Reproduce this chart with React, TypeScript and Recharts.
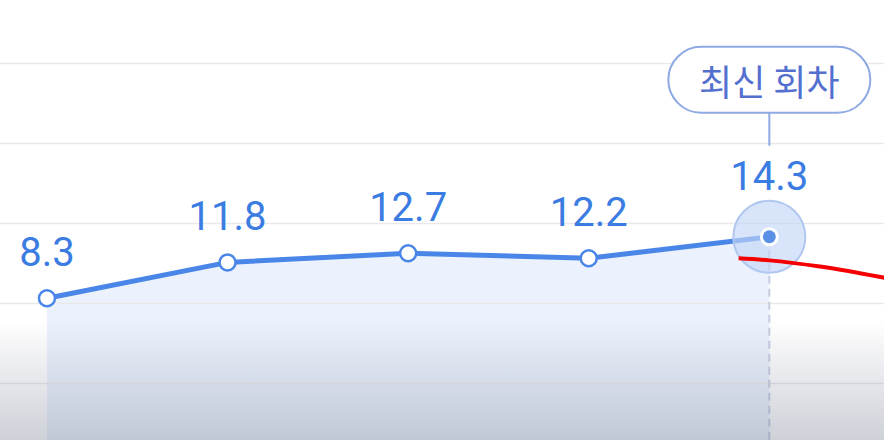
import React from "react";
import {
  ComposedChart,
  Area,
  Line,
  XAxis,
  YAxis,
  ReferenceLine,
  LabelList,
} from "recharts";

// rounds (index along x) and their values
const rounds = [0, 1, 2, 3, 4];
const values = [8.3, 11.8, 12.7, 12.2, 14.3];

// red hand-drawn trend that starts at the latest round and leaves the frame
const trendRounds = [3.83, 4.0, 4.28, 4.64];
const trendValues = [12.2, 12.0, 11.4, 10.3];

const gridValues = [0, 7.8, 15.6, 23.4, 31.2];
const latestLabel = "최신 회차";

const X_DOMAIN: [number, number] = [-0.26, 4.635];
const Y_DOMAIN: [number, number] = [-5.51, 37.38];

const mainData = rounds.map((r, i) => ({ x: r, v: values[i] }));
const trendData = trendRounds.map((r, i) => ({ x: r, v: trendValues[i] }));
const lastIndex = values.length - 1;

const BLUE = "#4a86e8";
const LABEL_BLUE = "#3b7ce2";

const renderDot = (props: any) => {
  const { cx, cy, index } = props;
  if (index === lastIndex) {
    return (
      <g key={`dot-${index}`}>
        <circle cx={cx} cy={cy} r={36} fill="#c3d6f6" fillOpacity={0.65} stroke="#b0c7f0" strokeWidth={2} />
        <circle cx={cx} cy={cy} r={9.5} fill="#fff" />
        <circle cx={cx} cy={cy} r={6.5} fill="#5c8fe6" />
      </g>
    );
  }
  return <circle key={`dot-${index}`} cx={cx} cy={cy} r={8} fill="#fff" stroke={BLUE} strokeWidth={2.5} />;
};

const renderLabel = (props: any) => {
  const { x, y, value, index } = props;
  const textStyle = {
    fontFamily: "Roboto, 'Noto Sans', sans-serif",
    fontSize: 40,
    fontWeight: 400,
  };
  if (index === lastIndex) {
    return (
      <g key={`lbl-${index}`}>
        <rect x={x - 101} y={y - 190} width={202} height={66} rx={33} fill="#fff" stroke="#8fa9e3" strokeWidth={2} />
        <text
          x={x}
          y={y - 157}
          textAnchor="middle"
          dominantBaseline="central"
          fill="#5470cf"
          style={{ fontFamily: "'Noto Sans CJK KR', sans-serif", fontSize: 36, fontWeight: 400 }}
        >
          {latestLabel}
        </text>
        <line x1={x} x2={x} y1={y - 124} y2={y - 91} stroke="#8fa9e3" strokeWidth={2} />
        <text x={x} y={y - 47} textAnchor="middle" fill={LABEL_BLUE} style={textStyle}>
          {value}
        </text>
      </g>
    );
  }
  return (
    <text key={`lbl-${index}`} x={x} y={y - 32} textAnchor="middle" fill={LABEL_BLUE} style={textStyle}>
      {value}
    </text>
  );
};

const App = () => {
  return (
    <div
      style={{
        position: "fixed",
        left: 0,
        top: 0,
        width: 884,
        height: 440,
        overflow: "hidden",
        background: "#fff",
      }}
    >
      <ComposedChart width={884} height={440} data={mainData} margin={{ top: 0, right: 0, left: 0, bottom: 0 }}>
        <XAxis type="number" dataKey="x" domain={X_DOMAIN} hide allowDataOverflow />
        <YAxis type="number" domain={Y_DOMAIN} hide allowDataOverflow />
        {gridValues.map((g) => (
          <ReferenceLine key={g} y={g} stroke="#e9e9ec" strokeWidth={1.5} />
        ))}
        <Area
          type="linear"
          dataKey="v"
          stroke="none"
          fill="#dbe7fb"
          fillOpacity={0.55}
          baseValue={Y_DOMAIN[0]}
          dot={false}
          activeDot={false}
          isAnimationActive={false}
        />
        <ReferenceLine
          segment={[
            { x: rounds[lastIndex], y: values[lastIndex] },
            { x: rounds[lastIndex], y: Y_DOMAIN[0] },
          ]}
          stroke="#c6cce0"
          strokeWidth={2}
          strokeDasharray="8 5"
        />
        <Line
          type="linear"
          dataKey="v"
          stroke={BLUE}
          strokeWidth={5}
          dot={renderDot}
          activeDot={false}
          isAnimationActive={false}
        >
          <LabelList dataKey="v" content={renderLabel} />
        </Line>
        <Line
          data={trendData}
          type="monotone"
          dataKey="v"
          stroke="#f40000"
          strokeWidth={4}
          dot={false}
          activeDot={false}
          isAnimationActive={false}
          {...({ zIndex: 1500 } as any)}
        />
      </ComposedChart>
      <div
        style={{
          position: "absolute",
          left: 0,
          top: 0,
          width: 884,
          height: 440,
          pointerEvents: "none",
          background:
            "linear-gradient(to bottom, rgba(110,118,140,0) 0px, rgba(110,118,140,0) 320px, rgba(110,118,140,0.34) 440px)",
        }}
      />
    </div>
  );
};

export default App;
